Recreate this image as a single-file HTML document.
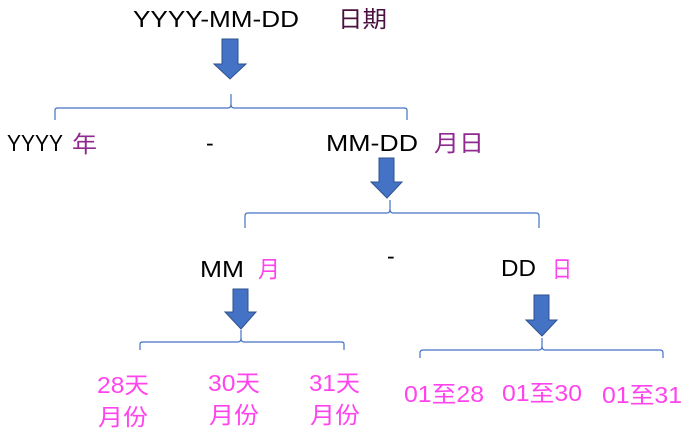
<!DOCTYPE html>
<html><head><meta charset="utf-8"><style>
html,body{margin:0;padding:0;background:#fff;width:688px;height:438px;overflow:hidden}
svg{display:block}
text{font-family:"Liberation Sans","Noto Sans CJK SC",sans-serif;font-size:23px}
.k{fill:#000}.p{fill:#8f2a8f}.d{fill:#4a1040}.m{fill:#ff44ee}
</style></head><body>
<svg width="688" height="438" viewBox="0 0 688 438" xmlns="http://www.w3.org/2000/svg">
<g fill="#4472c4" stroke="#2f528f" stroke-width="1">
<polygon points="222,39 238,39 238,64 246,64 230,79 214,64 222,64"/>
<polygon points="379,158 394,158 394,182 402,182 387,198 371,182 379,182"/>
<polygon points="233,289 248,289 248,312 256,312 241,329 225,312 233,312"/>
<polygon points="534,295 549,295 549,320 557,320 542,336 526,320 534,320"/>
</g>
<g fill="none" stroke="#4472c4" stroke-width="1.2">
<path d="M55,120 V110 Q55,108 58,108 H228 Q231,108 231,104 V94 M231,104 Q231,108 234,108 H404 Q407,108 407,110 V120"/>
<path d="M245,228 V216 Q245,213 248,213 H387 Q390,213 390,209 V200 M390,209 Q390,213 393,213 H536 Q539,213 539,216 V228"/>
<path d="M140,350 V344 Q140,342 143,342 H238 Q241,342 241,338 V330 M241,338 Q241,342 244,342 H341 Q344,342 344,344 V350"/>
<path d="M420,358 V353 Q420,350 423,350 H539 Q542,350 542,346 V338 M542,346 Q542,350 545,350 H660 Q663,350 663,353 V358"/>
</g>
<text x="133" y="27" class="k" textLength="166" lengthAdjust="spacingAndGlyphs">YYYY-MM-DD</text>
<text x="338" y="27" class="d" textLength="49" lengthAdjust="spacingAndGlyphs">日期</text>
<text x="7" y="151" class="k" textLength="56" lengthAdjust="spacingAndGlyphs">YYYY</text>
<text x="72" y="152" class="p" textLength="25" lengthAdjust="spacingAndGlyphs">年</text>
<text x="206" y="151" class="k">-</text>
<text x="326" y="151" class="k" textLength="92" lengthAdjust="spacingAndGlyphs">MM-DD</text>
<text x="434" y="151" class="p" textLength="50" lengthAdjust="spacingAndGlyphs">月日</text>
<text x="200" y="277" class="k" textLength="44" lengthAdjust="spacingAndGlyphs">MM</text>
<text x="258" y="277" class="m" textLength="22" lengthAdjust="spacingAndGlyphs">月</text>
<text x="387" y="264" class="k">-</text>
<text x="501" y="276" class="k" textLength="35" lengthAdjust="spacingAndGlyphs">DD</text>
<text x="552" y="277" class="m" textLength="20" lengthAdjust="spacingAndGlyphs">日</text>
<text x="97" y="393" class="m" textLength="52" lengthAdjust="spacingAndGlyphs">28天</text>
<text x="98" y="425" class="m" textLength="50" lengthAdjust="spacingAndGlyphs">月份</text>
<text x="208" y="391" class="m" textLength="52" lengthAdjust="spacingAndGlyphs">30天</text>
<text x="209" y="423" class="m" textLength="50" lengthAdjust="spacingAndGlyphs">月份</text>
<text x="309" y="391" class="m" textLength="51" lengthAdjust="spacingAndGlyphs">31天</text>
<text x="310" y="423" class="m" textLength="50" lengthAdjust="spacingAndGlyphs">月份</text>
<text x="404" y="402" class="m" textLength="80" lengthAdjust="spacingAndGlyphs">01至28</text>
<text x="502" y="401" class="m" textLength="80" lengthAdjust="spacingAndGlyphs">01至30</text>
<text x="602" y="403" class="m" textLength="80" lengthAdjust="spacingAndGlyphs">01至31</text>
</svg>
</body></html>
